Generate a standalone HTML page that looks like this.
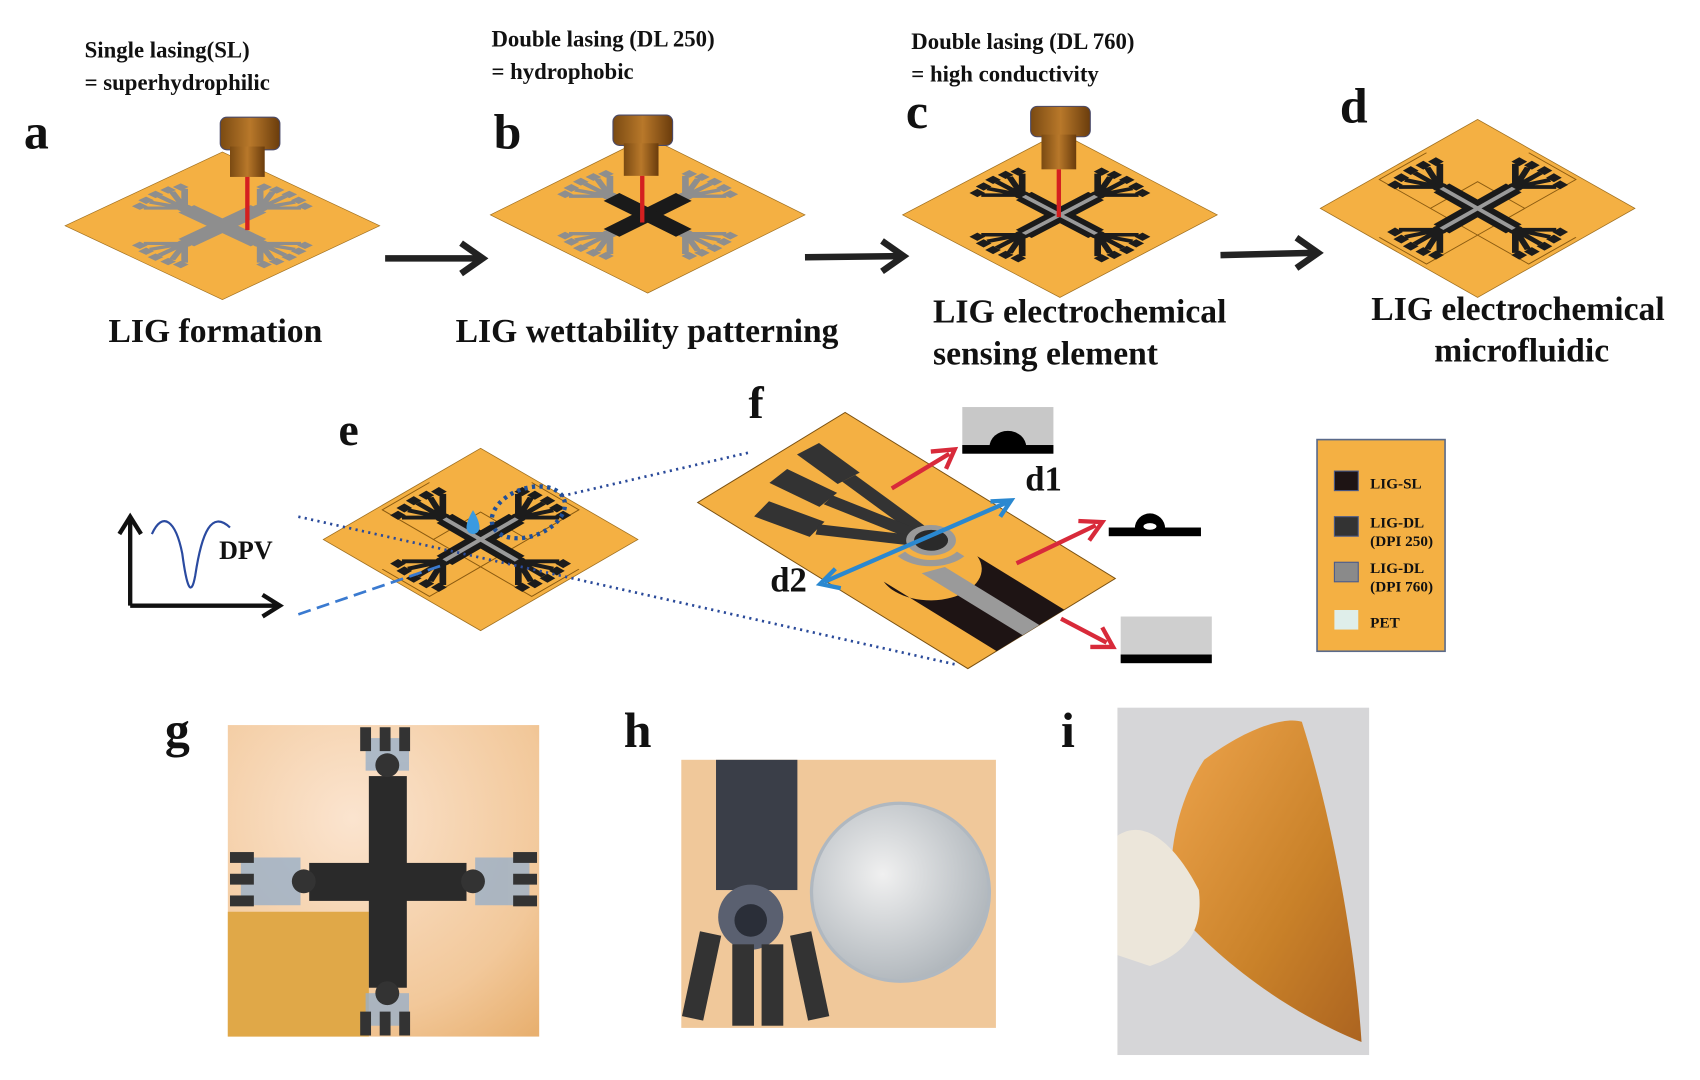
<!DOCTYPE html>
<html><head><meta charset="utf-8"><style>
html,body{margin:0;padding:0;background:#fff;}
svg{display:block}
text{font-family:"Liberation Serif",serif;font-weight:bold;fill:#111}
</style></head><body>
<svg width="1700" height="1080" viewBox="0 0 1567 995" preserveAspectRatio="none" xmlns="http://www.w3.org/2000/svg">
<defs>
<g id="sub">
 <rect x="-1" y="-1" width="2" height="2" fill="#F4B043" stroke="#a07020" stroke-width="0.01"/>
</g>
<g id="fing">
 <path d="M0,0.48 L0,0.8 M0,0.48 L-0.14,0.78 M0,0.48 L0.14,0.78 M0,0.48 L-0.26,0.74 M0,0.48 L0.26,0.74" stroke-width="0.06" fill="none"/>
 <path d="M-0.05,0.8 h0.1 v0.1 h-0.1z M-0.19,0.78 h0.1 v0.1 h-0.1z M0.09,0.78 h0.1 v0.1 h-0.1z M-0.31,0.74 h0.1 v0.1 h-0.1z M0.21,0.74 h0.1 v0.1 h-0.1z" stroke="none"/>
 <circle cx="0" cy="0.48" r="0.07" stroke="none"/>
</g>
<g id="fingset">
 <use href="#fing"/>
 <use href="#fing" transform="rotate(90)"/>
 <use href="#fing" transform="rotate(180)"/>
 <use href="#fing" transform="rotate(270)"/>
</g>
<g id="cross">
 <rect x="-0.1" y="-0.46" width="0.2" height="0.92" stroke="none"/>
 <rect x="-0.46" y="-0.1" width="0.92" height="0.2" stroke="none"/>
</g>
<g id="mid">
 <rect x="-0.025" y="-0.46" width="0.05" height="0.92" fill="#9a9a9a" stroke="none"/>
 <rect x="-0.46" y="-0.025" width="0.92" height="0.05" fill="#9a9a9a" stroke="none"/>
</g>
<g id="chan" fill="none" stroke="#8a5a10" stroke-width="0.012">
 <rect x="-0.3" y="-0.3" width="0.6" height="0.6"/>
 <path d="M-0.3,-0.95 h0.6 v0.65 M-0.3,0.95 h0.6 v-0.65 M-0.95,-0.3 v0.6 h0.65 M0.95,-0.3 v0.6 h-0.65"/>
</g>
<linearGradient id="laser" x1="0" x2="1"><stop offset="0" stop-color="#7a4a12"/><stop offset="0.5" stop-color="#b8782a"/><stop offset="1" stop-color="#6a3c0c"/></linearGradient>
<radialGradient id="gph" cx="0.4" cy="0.3" r="0.9"><stop offset="0" stop-color="#fbe4cf"/><stop offset="0.7" stop-color="#f2c89a"/><stop offset="1" stop-color="#e8b070"/></radialGradient>
<radialGradient id="coin" cx="0.4" cy="0.4" r="0.7"><stop offset="0" stop-color="#f0f0f0"/><stop offset="1" stop-color="#a9b0b6"/></radialGradient>
<linearGradient id="film" x1="0" y1="0" x2="1" y2="1"><stop offset="0" stop-color="#f0a040"/><stop offset="0.6" stop-color="#c87a1a"/><stop offset="1" stop-color="#a85a10"/></linearGradient>
</defs>

<!-- top labels -->
<text x="78" y="53" font-size="21">Single lasing(SL)</text>
<text x="78" y="83" font-size="21">= superhydrophilic</text>
<text x="453" y="43" font-size="21">Double lasing (DL 250)</text>
<text x="453" y="73" font-size="21">= hydrophobic</text>
<text x="840" y="45" font-size="21">Double lasing (DL 760)</text>
<text x="840" y="75" font-size="21">= high conductivity</text>
<text x="22" y="137" font-size="46">a</text>
<text x="455" y="137" font-size="46">b</text>
<text x="835" y="118" font-size="46">c</text>
<text x="1235" y="113" font-size="46">d</text>

<!-- panel a -->
<g transform="matrix(72.5,34,-72.5,34,205,208)">
 <use href="#sub"/>
 <g fill="#8e8e8e" stroke="#8e8e8e"><use href="#cross"/><use href="#fingset"/></g>
</g>
<rect x="203" y="108" width="55" height="30" rx="6" fill="url(#laser)" stroke="#4a4a6a" stroke-width="1"/>
<rect x="212" y="135" width="32" height="28" fill="url(#laser)"/>
<line x1="228" y1="163" x2="228" y2="212" stroke="#d42020" stroke-width="4"/>

<!-- panel b -->
<g transform="matrix(72.5,36,-72.5,36,597,198)">
 <use href="#sub"/>
 <g fill="#8e8e8e" stroke="#8e8e8e"><use href="#fingset"/></g>
 <g fill="#1a1a1a"><use href="#cross"/></g>
</g>
<rect x="565" y="106" width="55" height="28" rx="6" fill="url(#laser)" stroke="#4a4a6a"/>
<rect x="575" y="132" width="32" height="30" fill="url(#laser)"/>
<line x1="592" y1="162" x2="592" y2="205" stroke="#d42020" stroke-width="4"/>

<!-- panel c -->
<g transform="matrix(72.5,38,-72.5,38,977,198)">
 <use href="#sub"/>
 <g fill="#1c1c1c" stroke="#1c1c1c"><use href="#fingset"/></g>
 <g fill="#1a1a1a"><use href="#cross"/></g>
 <use href="#mid"/>
</g>
<rect x="950" y="98" width="55" height="28" rx="6" fill="url(#laser)" stroke="#4a4a6a"/>
<rect x="960" y="124" width="32" height="32" fill="url(#laser)"/>
<line x1="976" y1="156" x2="976" y2="200" stroke="#d42020" stroke-width="4"/>

<!-- panel d -->
<g transform="matrix(72.5,41,-72.5,41,1362,192)">
 <use href="#sub"/>
 <use href="#chan"/>
 <g fill="#1c1c1c" stroke="#1c1c1c"><use href="#fingset"/></g>
 <g fill="#1a1a1a"><use href="#cross"/></g>
 <use href="#mid"/>
</g>

<!-- arrows -->
<g stroke="#222" stroke-width="6" fill="none">
<line x1="355" y1="238" x2="440" y2="238"/><path d="M425,224 L445,238 L425,252"/>
<line x1="742" y1="237" x2="828" y2="236"/><path d="M813,222 L833,236 L813,250"/>
<line x1="1125" y1="235" x2="1210" y2="233"/><path d="M1195,219 L1215,233 L1195,247"/>
</g>

<text x="100" y="315" font-size="31">LIG formation</text>
<text x="420" y="315" font-size="31">LIG wettability patterning</text>
<text x="860" y="297" font-size="31">LIG electrochemical</text>
<text x="860" y="336" font-size="31">sensing element</text>
<text x="1264" y="295" font-size="31">LIG electrochemical</text>
<text x="1322" y="333" font-size="31">microfluidic</text>

<!-- panel e -->
<text x="312" y="410" font-size="42">e</text>
<g transform="matrix(72.5,42,-72.5,42,443,497)">
 <use href="#sub"/>
 <use href="#chan"/>
 <g fill="#1c1c1c" stroke="#1c1c1c"><use href="#fingset"/></g>
 <g fill="#1a1a1a"><use href="#cross"/></g>
 <use href="#mid"/>
</g>
<path d="M436,470 q6,10 6,16 a6,6 0 0 1 -12,0 q0,-6 6,-16z" fill="#3a9ae0"/>
<ellipse cx="487" cy="472" rx="35" ry="22" fill="none" stroke="#1f4f9a" stroke-width="4" stroke-dasharray="3,4" transform="rotate(-20 487 472)"/>
<line x1="518" y1="457" x2="690" y2="417" stroke="#2a4a9a" stroke-width="2.5" stroke-dasharray="2,4"/>
<line x1="275" y1="476" x2="880" y2="612" stroke="#2a4a9a" stroke-width="2.5" stroke-dasharray="2,4"/>
<line x1="275" y1="566" x2="410" y2="520" stroke="#3a7ad0" stroke-width="2.5" stroke-dasharray="12,6"/>

<!-- DPV -->
<g stroke="#111" stroke-width="4" fill="none">
<line x1="120" y1="558" x2="120" y2="478"/><path d="M110,492 L120,476 L130,492"/>
<line x1="120" y1="558" x2="255" y2="558"/><path d="M242,548 L258,558 L242,568"/>
</g>
<path d="M140,492 C150,470 162,480 168,510 C172,540 176,552 180,530 C186,490 195,470 212,486" fill="none" stroke="#2a4aa0" stroke-width="2"/>
<text x="202" y="515" font-size="24">DPV</text>

<!-- panel f -->
<text x="690" y="385" font-size="42">f</text>
<g transform="matrix(0.853,0.524,-0.855,0.522,779,380)">
 <rect x="0" y="0" width="292" height="159" fill="#F4B043" stroke="#7a5010" stroke-width="1"/>
 <g stroke="#333" stroke-linecap="butt" fill="none">
  <path d="M12,52 L60,56" stroke-width="22"/><path d="M60,56 L152,64" stroke-width="13"/>
  <path d="M20,92 L68,86" stroke-width="22"/><path d="M68,86 L152,68" stroke-width="13"/>
  <path d="M40,130 L88,118" stroke-width="22"/><path d="M88,118 L155,72" stroke-width="13"/>
 </g>
 <path d="M155,98 A32,32 0 0 0 191,62 L183,62 A24,24 0 0 1 155,90z" fill="#9a9a9a"/>
 <circle cx="159" cy="66" r="19" fill="#9a9a9a"/>
 <circle cx="159" cy="66" r="13" fill="#2a2a2a"/>
 <path d="M198,55 L292,55 L292,128 L170,128 A38,38 0 0 0 198,55z" fill="#1e1414"/>
 <path d="M190,82 L292,82 L292,100 L183,100z" fill="#9a9a9a"/>
</g>
<g stroke="#d82a3a" stroke-width="4" fill="none">
<line x1="822" y1="450" x2="875" y2="418"/><path d="M858,416 L880,414 L872,432"/>
<line x1="937" y1="519" x2="1010" y2="484"/><path d="M994,480 L1016,481 L1004,498"/>
<line x1="978" y1="570" x2="1020" y2="592"/><path d="M1005,596 L1026,596 L1016,578"/>
</g>
<g stroke="#2a88d0" stroke-width="4" fill="none">
<line x1="760" y1="536" x2="928" y2="463"/>
<path d="M913,462 L932,461 L922,476"/><path d="M770,524 L756,538 L775,542"/>
</g>
<text x="945" y="452" font-size="32">d1</text>
<text x="710" y="545" font-size="32">d2</text>
<rect x="887" y="375" width="84" height="42" fill="#c8c8c8"/>
<rect x="887" y="410" width="84" height="8" fill="#000"/>
<path d="M912,412 a17,15 0 0 1 34,0z" fill="#000"/>
<rect x="1022" y="486" width="85" height="8" fill="#000"/>
<path d="M1046,487 a14,14 0 0 1 28,0z" fill="#000"/>
<ellipse cx="1060" cy="485" rx="6" ry="3" fill="#fff"/>
<rect x="1033" y="568" width="84" height="42" fill="#cfcfcf"/>
<rect x="1033" y="603" width="84" height="8" fill="#000"/>

<!-- legend -->
<rect x="1214" y="405" width="118" height="195" fill="#F4B043" stroke="#5a6a8a" stroke-width="1.5"/>
<rect x="1230" y="434" width="22" height="18" fill="#1e1414" stroke="#4a5a8a"/>
<rect x="1230" y="476" width="22" height="18" fill="#333" stroke="#4a5a8a"/>
<rect x="1230" y="518" width="22" height="18" fill="#8a8a8a" stroke="#4a5a8a"/>
<rect x="1230" y="562" width="22" height="18" fill="#dfeeea"/>
<g font-size="14">
<text x="1263" y="450">LIG-SL</text>
<text x="1263" y="486">LIG-DL</text><text x="1263" y="503">(DPI 250)</text>
<text x="1263" y="528">LIG-DL</text><text x="1263" y="545">(DPI 760)</text>
<text x="1263" y="578">PET</text>
</g>

<!-- photos -->
<text x="152" y="688" font-size="46">g</text>
<text x="575" y="688" font-size="46">h</text>
<text x="978" y="688" font-size="46">i</text>
<rect x="210" y="668" width="287" height="287" fill="url(#gph)"/>
<rect x="210" y="840" width="130" height="115" fill="#e0a848"/>
<g fill="#2a2a2a">
<rect x="340" y="715" width="35" height="195"/>
<rect x="285" y="795" width="145" height="35"/>
</g>
<g fill="#9ab0c8" opacity="0.8">
<rect x="337" y="680" width="40" height="30"/><rect x="337" y="915" width="40" height="30"/>
<rect x="222" y="790" width="55" height="44"/><rect x="438" y="790" width="50" height="44"/>
</g>
<g fill="#333"><rect x="332" y="670" width="10" height="22"/><rect x="350" y="670" width="10" height="22"/><rect x="368" y="670" width="10" height="22"/>
<rect x="332" y="932" width="10" height="22"/><rect x="350" y="932" width="10" height="22"/><rect x="368" y="932" width="10" height="22"/>
<rect x="212" y="785" width="22" height="10"/><rect x="212" y="805" width="22" height="10"/><rect x="212" y="825" width="22" height="10"/>
<rect x="473" y="785" width="22" height="10"/><rect x="473" y="805" width="22" height="10"/><rect x="473" y="825" width="22" height="10"/>
<circle cx="357" cy="705" r="11"/><circle cx="357" cy="915" r="11"/><circle cx="280" cy="812" r="11"/><circle cx="436" cy="812" r="11"/></g>

<rect x="628" y="700" width="290" height="247" fill="#f0c89a"/>
<rect x="660" y="700" width="75" height="120" fill="#3a3e48"/>
<circle cx="692" cy="845" r="30" fill="#5a6070"/><circle cx="692" cy="848" r="15" fill="#2a2e38"/>
<g fill="#333"><rect x="645" y="860" width="20" height="80" transform="rotate(12 655 860)"/><rect x="675" y="870" width="20" height="75"/><rect x="702" y="870" width="20" height="75"/><rect x="728" y="860" width="20" height="80" transform="rotate(-12 738 860)"/></g>
<circle cx="830" cy="822" r="82" fill="url(#coin)" stroke="#b0b8c0" stroke-width="3"/>

<rect x="1030" y="652" width="232" height="320" fill="#d6d6d8"/>
<path d="M1110,700 C1150,670 1185,660 1200,665 C1230,760 1250,880 1255,960 C1180,930 1120,880 1085,840 C1070,790 1090,730 1110,700z" fill="url(#film)" opacity="0.92"/>
<path d="M1030,770 C1060,750 1090,790 1105,820 C1110,860 1090,880 1060,890 L1030,880z" fill="#ece6da"/>
</svg>
</body></html>
